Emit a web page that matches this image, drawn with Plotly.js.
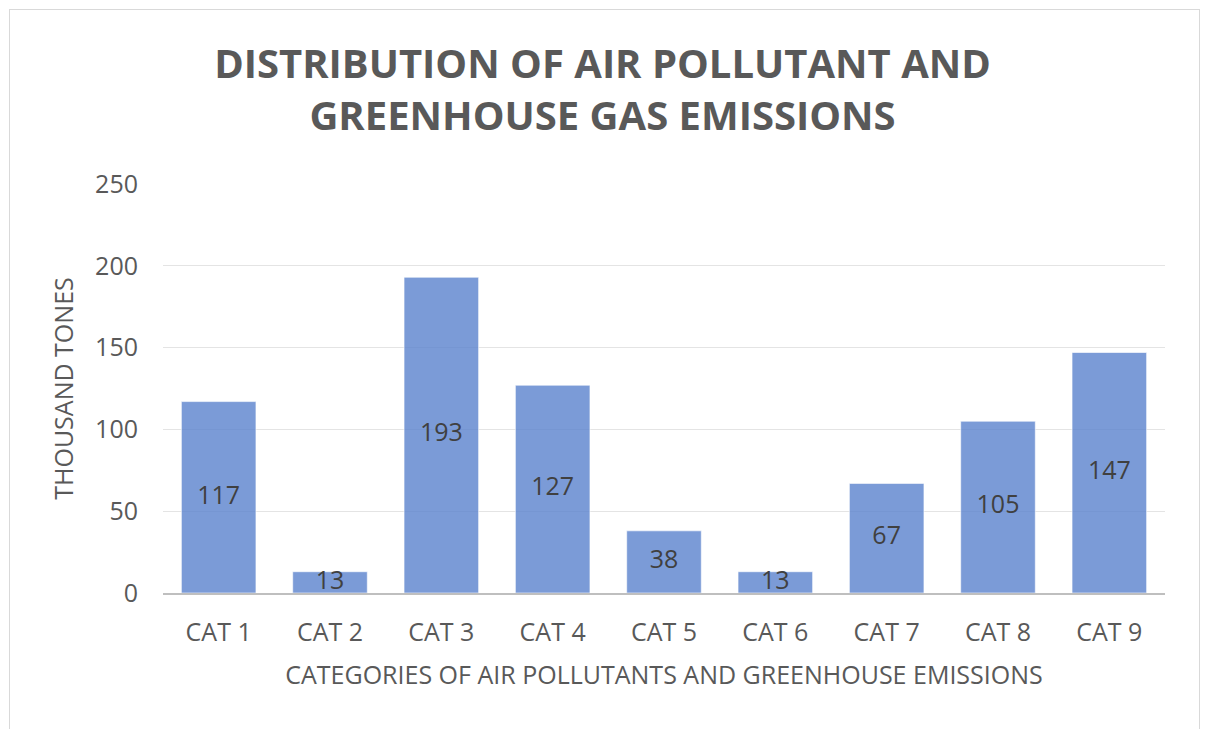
<!DOCTYPE html>
<html>
<head>
<meta charset="utf-8">
<script src="https://cdn.plot.ly/plotly-3.0.1.min.js"></script>
<style>
html,body{margin:0;padding:0;background:#fff;width:1205px;height:729px;overflow:hidden;}
#frame{position:absolute;left:9px;top:9px;width:1191px;height:760px;border:1.5px solid #d9d9d9;box-sizing:border-box;}
#chart{position:absolute;left:0;top:0;width:1205px;height:729px;}
</style>
</head>
<body>
<div id="frame"></div>
<div id="chart"></div>
<script>
const categories = ["CAT 1","CAT 2","CAT 3","CAT 4","CAT 5","CAT 6","CAT 7","CAT 8","CAT 9"];
const values = [117, 13, 193, 127, 38, 13, 67, 105, 147];
const yTicks = [0, 50, 100, 150, 200, 250];

const FONT = 'Open Sans, sans-serif';

const bars = {
  type: 'bar',
  x: categories,
  y: values,
  marker: {color: 'rgba(90,130,205,0.8)', line: {color: 'rgba(255,255,255,0.6)', width: 1}},
  hoverinfo: 'x+y'
};
const labels = {
  type: 'scatter',
  mode: 'text',
  x: categories,
  y: values.map(v => v / 2),
  text: values.map(String),
  textposition: 'middle center',
  textfont: {family: FONT, size: 25, color: '#404040'},
  hoverinfo: 'skip'
};

const layout = {
  width: 1205, height: 729,
  paper_bgcolor: 'rgba(0,0,0,0)',
  plot_bgcolor: 'rgba(0,0,0,0)',
  margin: {l: 163, r: 40, t: 184, b: 136},
  showlegend: false,
  bargap: 0.33,
  title: {
    text: 'DISTRIBUTION OF AIR POLLUTANT AND<br>GREENHOUSE GAS EMISSIONS',
    font: {family: FONT, size: 40, color: '#595959', weight: 'bold'},
    x: 0.5, xref: 'container', y: 0.893, yref: 'container', yanchor: 'top'
  },
  xaxis: {
    type: 'category',
    tickfont: {family: FONT, size: 25, color: '#595959'},
    ticks: '', showgrid: false,
    showline: true, linecolor: '#bfbfbf', linewidth: 1.5,
    ticklabelstandoff: 16,
    title: {text: 'CATEGORIES OF AIR POLLUTANTS AND GREENHOUSE EMISSIONS',
      font: {family: FONT, size: 25, color: '#595959'}, standoff: 20}
  },
  yaxis: {
    range: [0, 250],
    tickvals: yTicks,
    ticktext: yTicks.map(String),
    tickfont: {family: FONT, size: 25, color: '#595959'},
    showgrid: true, gridcolor: '#e4e4e4', gridwidth: 1,
    zeroline: false, showline: false, ticks: '',
    ticklabelstandoff: 24,
    title: {text: 'THOUSAND TONES',
      font: {family: FONT, size: 25, color: '#595959'}, standoff: 14}
  }
};

Plotly.newPlot('chart', [bars, labels], layout, {displayModeBar: false, staticPlot: true});
</script>
</body>
</html>
